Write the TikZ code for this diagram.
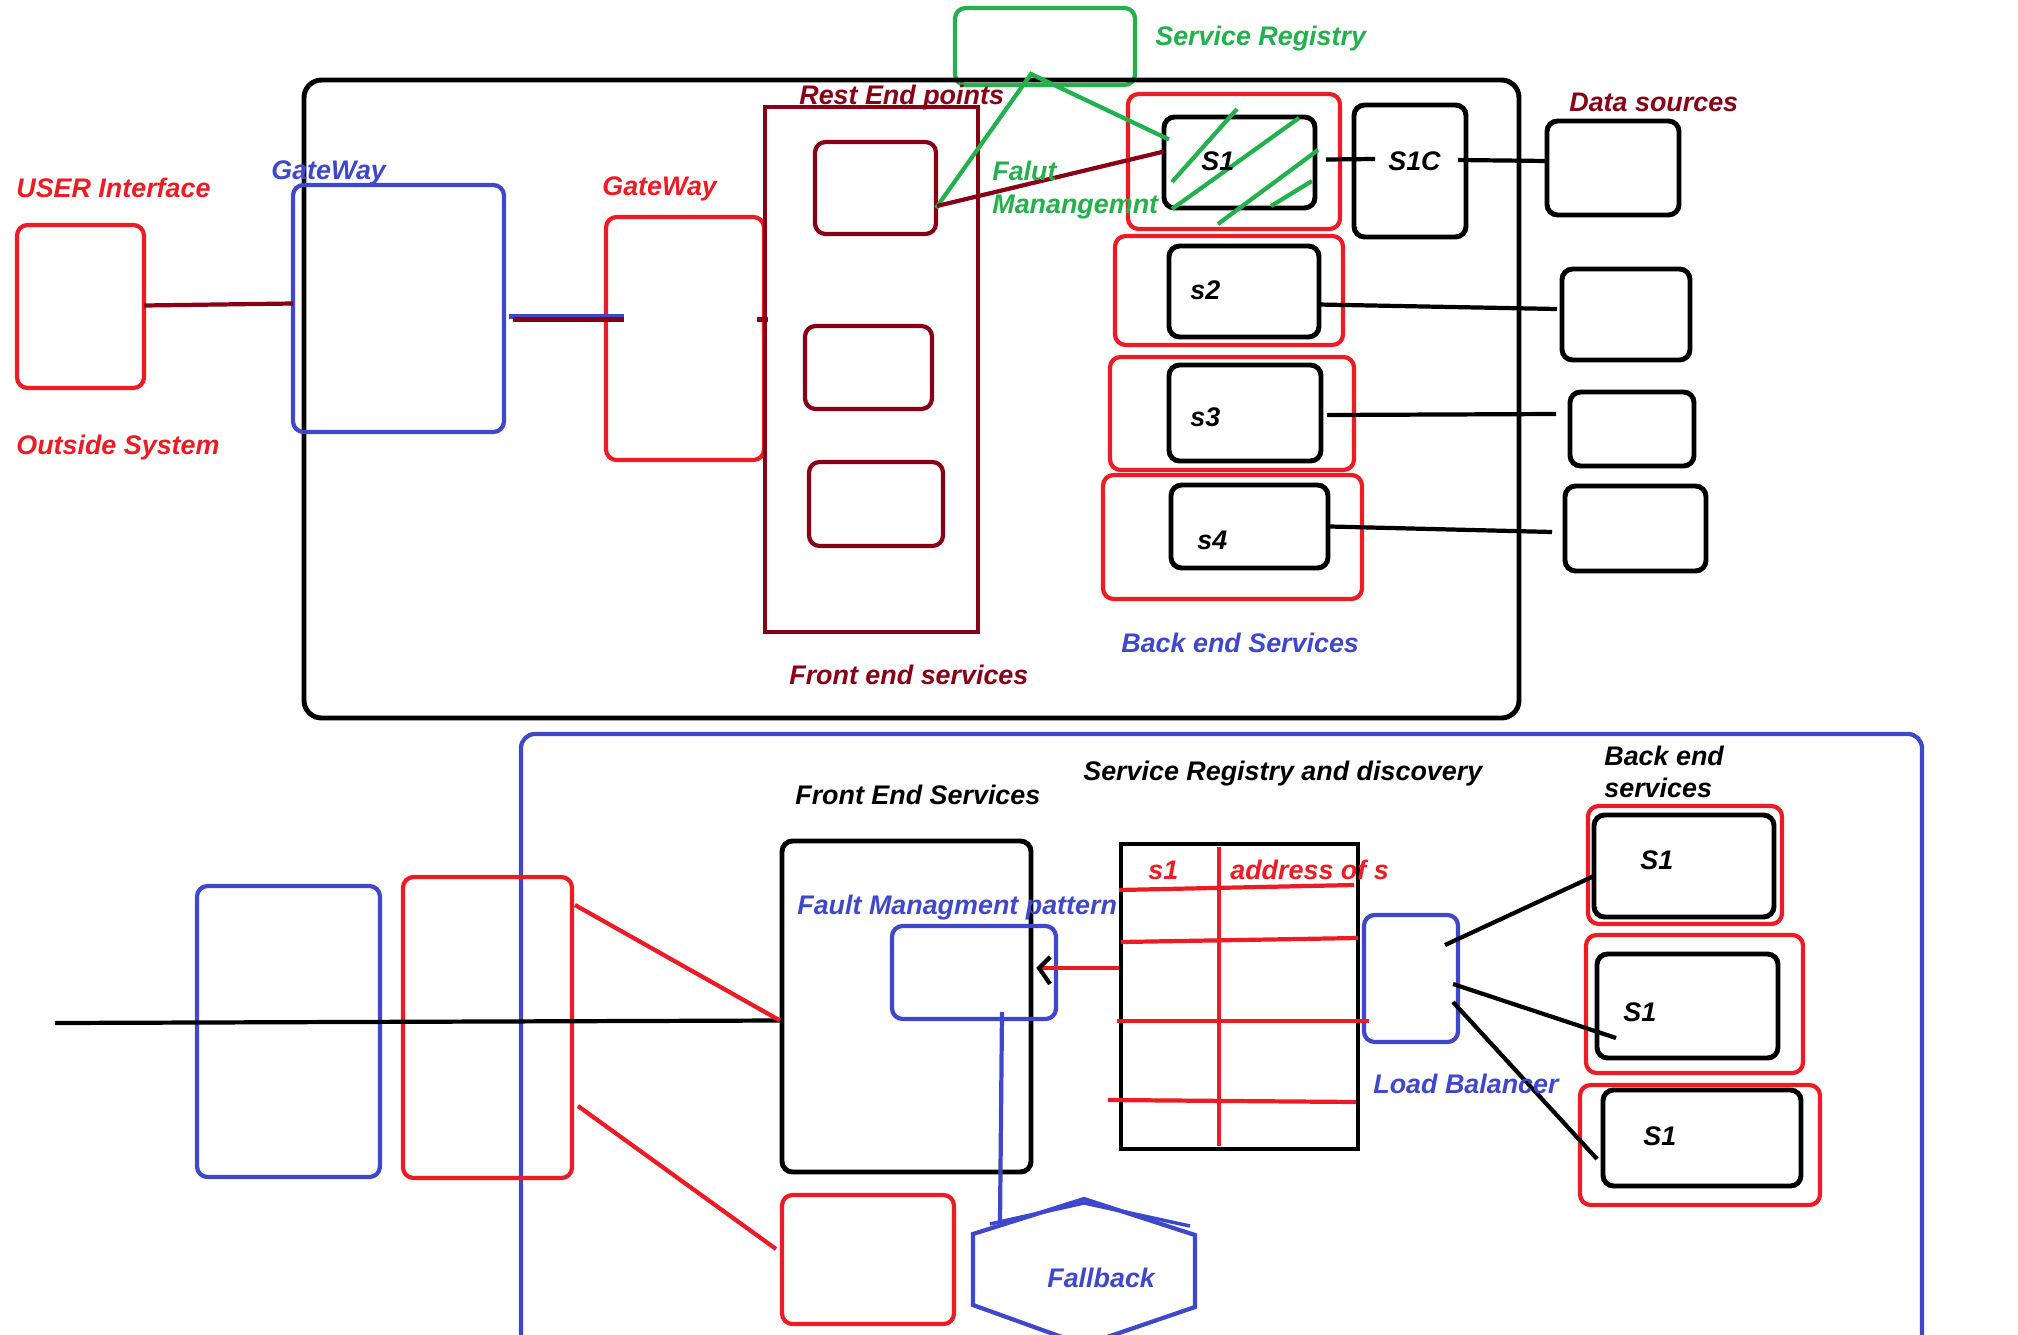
\documentclass[tikz,border=0pt]{standalone}
\usepackage{fontspec}
\setmainfont{Liberation Sans}
\usetikzlibrary{fit,calc}
\definecolor{ured}{HTML}{ED1C24}
\definecolor{dred}{HTML}{880015}
\definecolor{ublue}{HTML}{3F48CC}
\definecolor{ugreen}{HTML}{22B14C}
\begin{document}
\begin{tikzpicture}[x=0.02cm,y=-0.02cm,
  box/.style={draw,rounded corners=6pt,line width=2.4pt,inner sep=0pt,outer sep=0pt},
  rbox/.style={box,ured},
  dbox/.style={box,dred},
  bbox/.style={box,ublue},
  gbox/.style={box,ugreen},
  kbox/.style={box,black,line width=2.8pt},
  wire/.style={line width=2.4pt},
  lab/.style={font=\fontsize{15.3}{18}\selectfont\bfseries\itshape,inner sep=0pt,anchor=base west}]
\useasboundingbox (0,0) rectangle (2018,1335);

% ---------- upper system ----------
\node[gbox, fit={(955,8)(1135,85)}] (reg) {};
\node[kbox, rounded corners=10pt, fit={(304,80)(1519,718)}] (sys) {};
\node[rbox, fit={(17,225)(144,388)}] (ui) {};
\node[bbox, fit={(293,185)(504,432)}] (gwb) {};
\node[rbox, fit={(606,217)(764,460)}] (gwr) {};
\node[dbox, sharp corners, fit={(765,107)(978,632)}] (fe) {};
\node[dbox, fit={(815,142)(936,234)}] (ep1) {};
\node[dbox, fit={(805,326)(932,409)}] (ep2) {};
\node[dbox, fit={(809,462)(943,546)}] (ep3) {};
\node[rbox, fit={(1128,94)(1340,229)}] (g1) {};
\node[kbox, fit={(1164,117)(1315,208)}] (s1) {};
\node[kbox, fit={(1354,105)(1466,237)}] (s1c) {};
\node[rbox, fit={(1115,236)(1343,345)}] (g2) {};
\node[kbox, fit={(1169,246)(1319,337)}] (s2) {};
\node[rbox, fit={(1110,357)(1354,470)}] (g3) {};
\node[kbox, fit={(1169,365)(1321,461)}] (s3) {};
\node[rbox, fit={(1103,475)(1362,599)}] (g4) {};
\node[kbox, fit={(1171,485)(1328,568)}] (s4) {};
\node[kbox, fit={(1547,121)(1679,215)}] (ds1) {};
\node[kbox, fit={(1562,269)(1690,360)}] (ds2) {};
\node[kbox, fit={(1570,392)(1694,466)}] (ds3) {};
\node[kbox, fit={(1565,486)(1706,571)}] (ds4) {};

% hatching over S1
\draw[wire,ugreen] (1237,109) -- (1172,182);
\draw[wire,ugreen] (1299,118) -- (1172,209);
\draw[wire,ugreen] (1318,150) -- (1218,224);
\draw[wire,ugreen] (1312,181) -- (1271,206);

% upper connectors
\draw[wire,dred] ($(ui.east)+(0,-1)$) -- ($(gwb.west)+(0,-5)$);
\draw[wire,ublue] ($(gwb.east)+(5,8)$) -- ++(115,0);
\draw[wire,dred] ($(gwb.east)+(9,11)$) -- ++(111,0);
\draw[wire,dred] ($(gwr.east)+(-7,-19)$) -- ++(11,0);
\coordinate (apex) at ($(reg.south)+(-14,-11)$);
\draw[wire,ugreen] ($(ep1.east)+(0,20)$) -- (apex) -- ($(s1.west)+(5,-23)$);
\draw[wire,dred] ($(ep1.east)+(1,18)$) -- ($(s1.west)+(0,-11)$);
\draw[wire] ($(s1.east)+(11,-3)$) -- ($(s1c.west)+(21,-12)$);
\draw[wire] ($(s1c.east)+(-8,-11)$) -- ($(ds1.west)+(0,-7)$);
\draw[wire] ($(s2.east)+(-1,13)$) -- ($(ds2.west)+(-5,-5.5)$);
\draw[wire] ($(s3.east)+(6,2)$) -- ($(ds3.west)+(-14,-15)$);
\draw[wire] ($(s4.east)+(2,0)$) -- ($(ds4.west)+(-13,3.5)$);

% upper labels
\node[lab,ugreen] (tReg) at (1155,46) {Service Registry};
\node[lab,dred] (tRest) at (799,105) {Rest End points};
\node[lab,ured] (tUI) at (16,197) {USER Interface};
\node[lab,ured] (tOut) at (16,454) {Outside System};
\node[lab,ublue] (tGwb) at (271,179) {GateWay};
\node[lab,ured] (tGwr) at (602,195) {GateWay};
\node[lab,ugreen] (tFal) at (992,180) {Falut};
\node[lab,ugreen] (tMan) at (992,213) {Manangemnt};
\node[lab,dred] (tFe) at (789,684) {Front end services};
\node[lab,dred] (tDs) at (1569,112) {Data sources};
\node[lab,ublue] (tBe) at (1121,652) {Back end Services};
\node[lab] (tS1) at (1201,171) {S1};
\node[lab] (tS1c) at (1388,171) {S1C};
\node[lab] (tS2) at (1190,299) {s2};
\node[lab] (tS3) at (1190,426) {s3};
\node[lab] (tS4) at (1197,549) {s4};

% ---------- lower system ----------
\draw[ublue,line width=2.4pt,rounded corners=8pt] (521,1345) -- (521,734) -- (1922,734) -- (1922,1345);
\node[bbox, fit={(197,886)(380,1177)}] (lgw) {};
\node[rbox, fit={(403,877)(572,1178)}] (lrg) {};
\node[kbox, fit={(782,841)(1031,1172)}] (fes) {};
\node[bbox, fit={(892,926)(1056,1019)}] (fm) {};
\node[rbox, fit={(782,1195)(954,1324)}] (rb2) {};
\node[kbox, sharp corners, fit={(1121,844)(1358,1149)}] (tab) {};
\node[bbox, fit={(1364,915)(1458,1042)}] (lbal) {};
\node[rbox, fit={(1588,806)(1782,924)}] (r1) {};
\node[kbox, fit={(1594,815)(1774,917)}] (b1) {};
\node[rbox, fit={(1586,935)(1803,1073)}] (r2) {};
\node[kbox, fit={(1597,954)(1778,1058)}] (b2) {};
\node[rbox, fit={(1580,1085)(1820,1205)}] (r3) {};
\node[kbox, fit={(1603,1090)(1801,1186)}] (b3) {};

% fallback hexagon
\coordinate (fb) at (1084,1270);
\draw[ublue,line width=2.4pt] ($(fb)+(0,-71)$) -- ($(fb)+(111,-35)$) -- ($(fb)+(111,37)$)
  -- ($(fb)+(0,75)$) -- ($(fb)+(-111,35)$) -- ($(fb)+(-111,-36)$) -- cycle;
\draw[ublue,line width=2pt] ($(fb)+(-94,-46)$) -- ($(fb)+(0,-67)$) -- ($(fb)+(106,-44)$);

% registry table rules
\draw[wire,ured] (1219,847) -- (1219,1146);
\draw[wire,ured] (1119,890) -- (1354,885);
\draw[wire,ured] (1121,942) -- (1358,938);
\draw[wire,ured] (1117,1021) -- (1369,1021);
\draw[wire,ured] (1108,1100) -- (1356,1102);

% lower connectors
\coordinate (lft) at (55,1023);
\draw[wire] (lft) -- ($(fes.west)+(-2,14)$);
\draw[wire,ured] ($(lrg.east)+(3,-122.5)$) -- ($(fes.west)+(-2,14)$);
\draw[wire,ured] ($(lrg.east)+(6,78.5)$) -- ($(rb2.west)+(-6,-10.5)$);
\draw[wire,ublue] ($(fm.south)+(28,-7)$) -- ($(fb)+(-84,-48)$);
\draw[wire,ured] ($(tab.west)+(-2,-28.5)$) -- ($(fm.east)+(-17,-4.5)$);
\draw[wire] ($(fm.east)+(-6,-15.5)$) -- ($(fm.east)+(-17,-4.5)$) -- ($(fm.east)+(-6,11.5)$);
\draw[wire] ($(lbal.east)+(-13,-33.5)$) -- ($(b1.west)+(0,10)$);
\draw[wire] ($(lbal.east)+(-5,5.5)$) -- ($(b2.west)+(19,32)$);
\draw[wire] ($(lbal.east)+(-5,23.5)$) -- ($(b3.west)+(-6,21)$);

% lower labels
\node[lab] (tFes) at (795,804) {Front End Services};
\node[lab] (tSrd) at (1083,780) {Service Registry and discovery};
\node[lab] (tBe1) at (1604,765) {Back end};
\node[lab] (tBe2) at (1604,797) {services};
\node[lab,ublue] (tFm) at (797,914) {Fault Managment pattern};
\node[lab,ured] (tTs1) at (1148,879) {s1};
\node[lab,ured] (tAddr) at (1230,879) {address of s};
\node[lab,ublue] (tLb) at (1373,1093) {Load Balancer};
\node[lab,ublue] (tFb) at (1047,1287) {Fallback};
\node[lab] (tB1) at (1640,869) {S1};
\node[lab] (tB2) at (1623,1021) {S1};
\node[lab] (tB3) at (1643,1145) {S1};
\end{tikzpicture}
\end{document}
